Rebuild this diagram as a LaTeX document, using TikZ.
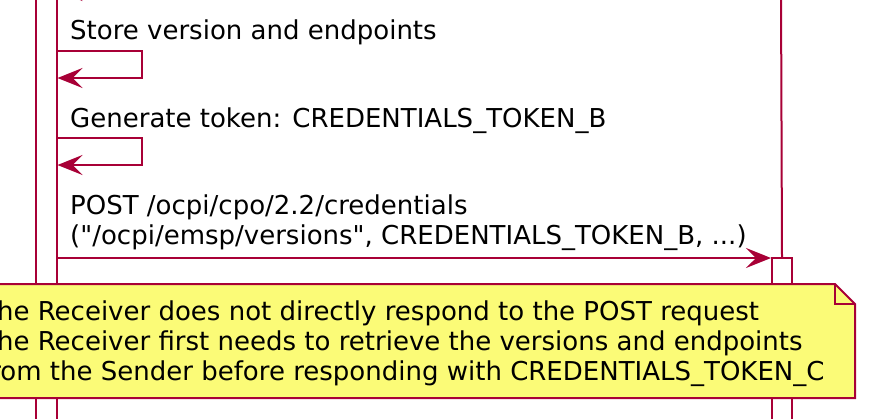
\documentclass[tikz,border=0pt]{standalone}
\usepackage{fontspec}
\setmainfont{DejaVu Sans}[Ligatures=TeXOff]
\usetikzlibrary{arrows.meta}
\definecolor{pred}{HTML}{A80036}
\definecolor{pnote}{HTML}{FBFB77}
\tikzset{
  line/.style={draw=pred, line width=2bp},
  msg/.style={line, -{Stealth[length=25bp,width=20bp,inset=10bp]}},
  actbox/.style={line, fill=white, rectangle, inner sep=0pt, anchor=north west},
  lbl/.style={inner sep=0pt, anchor=base west, text=black, font=\fontsize{26bp}{30bp}\selectfont},
}
\begin{document}
\begin{tikzpicture}[x=1bp,y=-1bp]
\useasboundingbox (0,0) rectangle (896,418);
\clip (0,0) rectangle (896,418);
% receiver lifeline and activation
\coordinate (rtop) at (781,-10);
\node[actbox, minimum width=20bp, minimum height=200bp] (recvact) at (771,257) {};
\draw[line] (rtop) -- (recvact.north);
% sender activation
\node[actbox, minimum width=21bp, minimum height=460bp] (sendact) at (34.5,-20) {};
% previous self message (partly visible)
\coordinate (s0a) at (142,-36);
\coordinate (s0b) at (142,-9);
\draw[msg] (sendact.east |- s0a) -- (s0a) -- (s0b) -- (sendact.east |- s0b);
% self message 1
\node[lbl] (t1) at (70,39) {Store version and endpoints};
\coordinate (s1a) at (142,51);
\coordinate (s1b) at (142,78);
\draw[msg] (sendact.east |- s1a) -- (s1a) -- (s1b) -- (sendact.east |- s1b);
% self message 2
\node[lbl] (t2) at (70,127) {Generate token: CREDENTIALS\_TOKEN\_B};
\coordinate (s2a) at (142,138);
\coordinate (s2b) at (142,165);
\draw[msg] (sendact.east |- s2a) -- (s2a) -- (s2b) -- (sendact.east |- s2b);
% POST message
\node[lbl] (t3) at (70,214) {POST /ocpi/cpo/2.2/credentials};
\node[lbl] (t4) at (70,244) {("/ocpi/emsp/versions", CREDENTIALS\_TOKEN\_B, ...)};
\coordinate (pm) at (55,258);
\draw[msg] (sendact.east |- pm) -- (recvact.west |- pm);
% note
\coordinate (nA) at (-30,284);
\coordinate (nB) at (835,284);
\coordinate (nC) at (855,304);
\coordinate (nD) at (855,398);
\coordinate (nE) at (-30,398);
\coordinate (nF) at (835,304);
\draw[line, fill=pnote] (nA) -- (nB) -- (nC) -- (nD) -- (nE) -- cycle;
\draw[line] (nB) -- (nF) -- (nC);
\node[lbl] (n1) at (-19,320) {The Receiver does not directly respond to the POST request};
\node[lbl] (n2) at (-19,350) {The Receiver first needs to retrieve the versions and endpoints};
\node[lbl] (n3) at (-19,380) {from the Sender before responding with CREDENTIALS\_TOKEN\_C};
\end{tikzpicture}
\end{document}
